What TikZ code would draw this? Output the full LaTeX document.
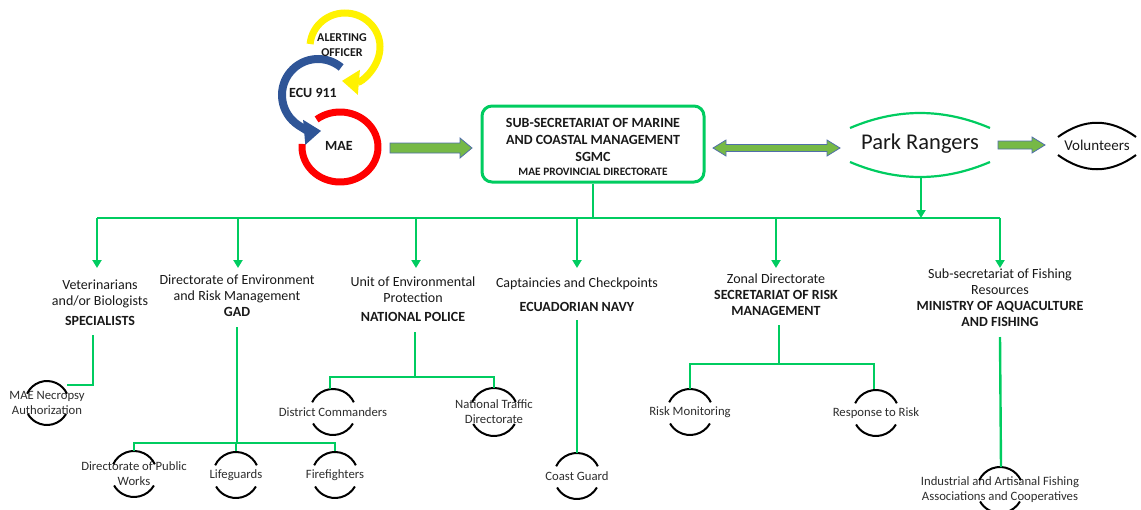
\documentclass[tikz,border=0pt]{standalone}
\usepackage{fontspec}
\setmainfont{Carlito}
\usetikzlibrary{arrows.meta,calc}
\definecolor{tgreen}{RGB}{0,204,96}
\definecolor{bfill}{RGB}{118,185,70}
\definecolor{bedge}{RGB}{80,110,170}
\definecolor{cyel}{RGB}{255,242,0}
\definecolor{cblue}{RGB}{47,85,151}
\definecolor{cred}{RGB}{255,0,0}
\definecolor{txt}{RGB}{25,25,25}
\definecolor{leaftxt}{RGB}{45,45,45}
\newcommand\leafring[2]{%
  \draw[leafarc] (#1.center) ++(205:#2) arc[start angle=205,end angle=335,radius=#2];
  \draw[leafarc] (#1.center) ++(30:#2) arc[start angle=30,end angle=150,radius=#2];}
\begin{document}
\begin{tikzpicture}[x=1pt,y=-1pt,
  gline/.style={draw=tgreen,line width=2.4pt},
  garrow/.style={gline,-{Triangle[length=8pt,width=9pt]}},
  blockarrow/.style={fill=bfill,draw=bedge,line width=0.8pt},
  childlbl/.style={font=\fontsize{14}{16}\selectfont,text=txt,align=center,anchor=north,inner sep=0pt},
  leaflbl/.style={font=\fontsize{12.7}{15}\selectfont,text=leaftxt,align=center,inner sep=0pt},
  leafarc/.style={draw=black,line width=2pt},
  circlbl/.style={font=\bfseries\fontsize{14}{16}\selectfont,text=txt,align=center,inner sep=0pt}
]
\useasboundingbox (0,0) rectangle (1141,509);

% ---- circular arrows ----
\draw[cred,line width=7pt] (340,147) ++(232:38 and 35) arc[start angle=232,end angle=545,x radius=38,y radius=35];
\draw[cblue,line width=8pt,-{Triangle[length=17pt,width=24pt]}] (318,95) ++(310:36) arc[start angle=310,end angle=85,radius=36];
\draw[cyel,line width=7pt,-{Triangle[length=17pt,width=24pt]}] (345,47) ++(185:35 and 34) arc[start angle=185,end angle=455,x radius=35,y radius=34];
\node[circlbl,font=\bfseries\fontsize{12}{15}\selectfont] (alert) at (342,45) {ALERTING\\OFFICER};
\node[circlbl] (ecu) at (313,93) {ECU 911};
\node[circlbl] (mae) at (339,146) {MAE};

% ---- SGMC box ----
\node[draw=tgreen,line width=3pt,rounded corners=10pt,minimum width=222pt,minimum height=76pt,inner sep=0pt] (sgmc) at (593,144) {};
\node[font=\bfseries\fontsize{14}{17}\selectfont,text=txt,align=center,anchor=north,inner sep=0pt] (sgmctext) at (593,118)
  {SUB-SECRETARIAT OF MARINE\\AND COASTAL MANAGEMENT\\SGMC\\[-3pt]{\fontsize{11.3}{12}\selectfont MAE PROVINCIAL DIRECTORATE}};

% ---- block arrows ----
\draw[blockarrow] (390,143) -- (460,143) -- (460,138) -- (472,148) -- (460,158) -- (460,153) -- (390,153) -- cycle;
\draw[blockarrow] (713,148) -- (726,140) -- (726,144.5) -- (827,144.5) -- (827,140) -- (840,148) -- (827,156) -- (827,151.5) -- (726,151.5) -- (726,156) -- cycle;
\draw[blockarrow] (998,141) -- (1032,141) -- (1032,137) -- (1045,145) -- (1032,153) -- (1032,149) -- (998,149) -- cycle;

% ---- Park Rangers ----
\node[font=\fontsize{22.5}{24}\selectfont,text=txt,inner sep=0pt] (park) at (920,144) {Park Rangers};
\draw[gline,line width=2.2pt] (850,128) .. controls (897,108) and (943,108) .. (990,128);
\draw[gline,line width=2.2pt] (850,162) .. controls (897,182) and (943,182) .. (990,162);

% ---- Volunteers ----
\node[font=\fontsize{15}{16}\selectfont,text=txt,inner sep=0pt] (vol) at (1097,145) {Volunteers};
\draw[black,line width=2pt] (1058,137) .. controls (1084,118) and (1110,118) .. (1136,137);
\draw[black,line width=2pt] (1058,155) .. controls (1084,174) and (1110,174) .. (1136,155);

% ---- bus ----
\coordinate (busL) at (97,218);
\coordinate (busR) at (1000,218);
\coordinate (parkout) at (921,176);
\draw[gline] (busL) -- (busR);
\draw[garrow] (parkout) -- (parkout |- busL);

\coordinate (in1) at (97,268);
\coordinate (in2) at (238,268);
\coordinate (in3) at (416,268);
\coordinate (in4) at (577,268);
\coordinate (in5) at (776,268);
\coordinate (in6) at (1000,268);
\draw[gline] (sgmc.south) -- (sgmc.south |- busL);
\foreach \i in {1,...,6} {\draw[garrow] (in\i |- busL) -- (in\i);}

% ---- children ----
\node[childlbl] (vet) at (100,280) {Veterinarians\\and/or Biologists\\[4pt]\textbf{SPECIALISTS}};
\node[childlbl] (gad) at (237,275) {Directorate of Environment\\and Risk Management\\\textbf{GAD}};
\node[childlbl] (pol) at (413,277) {Unit of Environmental\\Protection\\[3pt]\textbf{NATIONAL POLICE}};
\node[childlbl] (navy) at (577,278) {Captaincies and Checkpoints\\[8pt]\textbf{ECUADORIAN NAVY}};
\node[childlbl] (zon) at (776,274) {Zonal Directorate\\\textbf{SECRETARIAT OF RISK}\\\textbf{MANAGEMENT}};
\node[childlbl] (fish) at (1000,269) {Sub-secretariat of Fishing\\Resources\\\textbf{MINISTRY OF AQUACULTURE}\\\textbf{AND FISHING}};

% ---- leaves ----
\node[leaflbl] (nec) at (47,403) {MAE Necropsy\\Authorization};
\node[leaflbl] (dpw) at (134,474) {Directorate of Public\\Works};
\node[leaflbl] (life) at (236,475) {Lifeguards};
\node[leaflbl] (fire) at (335,475) {Firefighters};
\node[leaflbl] (dist) at (333,412) {District Commanders};
\node[leaflbl] (ntd) at (494,412) {National Traffic\\Directorate};
\node[leaflbl] (coast) at (577,476) {Coast Guard};
\node[leaflbl] (rmon) at (690,412) {Risk Monitoring};
\node[leaflbl] (resp) at (876,413) {Response to Risk};
\node[leaflbl] (ind) at (1000,490) {Industrial and Artisanal Fishing\\Associations and Cooperatives};

\leafring{nec}{22}
\leafring{dpw}{23}
\leafring{life}{23}
\leafring{fire}{23}
\leafring{dist}{23}
\leafring{ntd}{24}
\leafring{coast}{23}
\leafring{rmon}{23}
\leafring{resp}{23}
\leafring{ind}{23}

% ---- sub connectors ----
\coordinate (vetout) at (93,335);
\coordinate (necin) at (67,385);
\draw[gline] (vetout) -- (vetout |- necin) -- (necin);

\coordinate (gadout) at (237,327);
\coordinate (gadbus) at (237,443);
\coordinate (dpwin) at (134,451);
\coordinate (lifein) at (236,451);
\coordinate (firein) at (335,451);
\draw[gline] (gadout) -- (gadbus);
\draw[gline] (dpwin) -- (dpwin |- gadbus) -- (firein |- gadbus) -- (firein);
\draw[gline] (lifein |- gadbus) -- (lifein);

\coordinate (polout) at (415,332);
\coordinate (polbus) at (415,377);
\coordinate (distin) at (330,389);
\coordinate (ntdin) at (494,388);
\draw[gline] (polout) -- (polbus);
\draw[gline] (distin) -- (distin |- polbus) -- (ntdin |- polbus) -- (ntdin);

\coordinate (navyout) at (577,320);
\coordinate (coastin) at (577,453);
\draw[gline] (navyout) -- (coastin);

\coordinate (zonout) at (779,325);
\coordinate (zonbus) at (779,364);
\coordinate (rmonin) at (690,389);
\coordinate (respin) at (874,389);
\draw[gline] (zonout) -- (zonbus);
\draw[gline] (rmonin) -- (rmonin |- zonbus) -- (respin |- zonbus) -- (respin);

\coordinate (fishout) at (1000,337);
\coordinate (indin) at (1001,467);
\draw[gline] (fishout) -- (indin);
\end{tikzpicture}
\end{document}
